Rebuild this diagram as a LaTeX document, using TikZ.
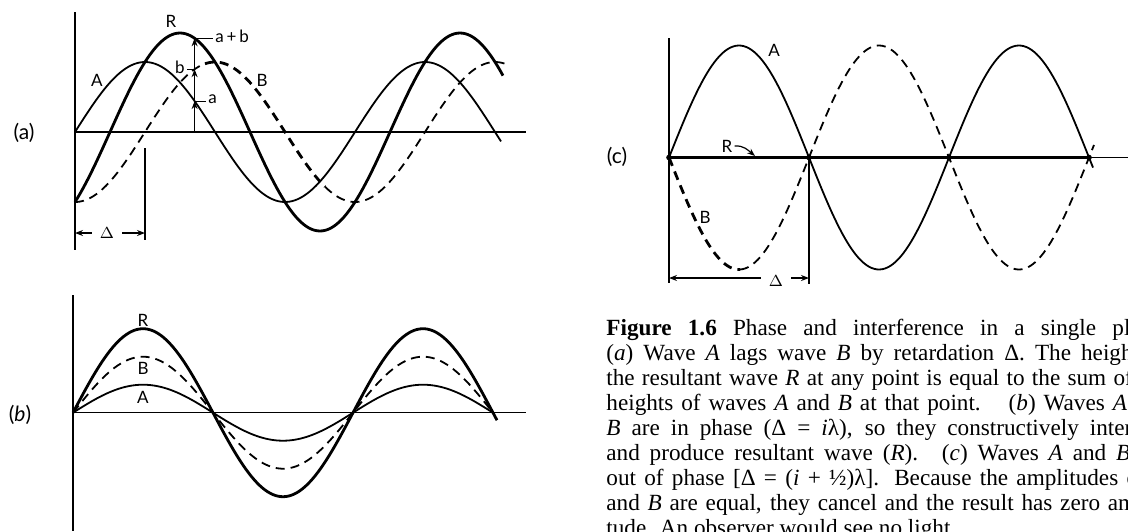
\documentclass[tikz,border=0pt]{standalone}
\usepackage{fontspec}
\setmainfont{Liberation Serif}
\newfontfamily\labfont{Lato}
\usetikzlibrary{arrows.meta}
\begin{document}
\begin{tikzpicture}[x=0.5pt,y=-0.5pt,
  axis/.style={line width=0.7pt},
  waveA/.style={line width=0.9pt, line join=round},
  waveR/.style={line width=1.4pt, line join=round},
  waveB/.style={line width=0.9pt, dash pattern=on 4.5pt off 3pt},
  waveBthick/.style={line width=1.4pt, dash pattern=on 4.5pt off 3pt},
  lab/.style={font=\labfont\fontsize{8.5}{10}\selectfont, inner sep=1pt},
  plab/.style={font=\labfont\fontsize{10.5}{12}\selectfont, inner sep=0pt},
  arr/.style={line width=0.6pt, -{Stealth[length=4pt,width=3pt]}},
  tick/.style={line width=0.6pt},
]
\useasboundingbox (0,0) rectangle (1128,531);
\def\kf{1.285714}

% ---------------- panel (a)
\node[plab] (la) at (24,133) {(a)};
\draw[axis] (75,12) -- (75,250);
\draw[axis] (75,132) -- (526,132);
\draw[waveA] plot[domain=75:501,samples=160] (\x,{132-70*sin(\kf*(\x-75))});
\draw[waveB] plot[domain=75:205,samples=60] (\x,{132+70*cos(\kf*(\x-75))});
\draw[waveBthick] plot[domain=205:325,samples=60] (\x,{132+70*cos(\kf*(\x-75))});
\draw[waveB] plot[domain=325:506,samples=80] (\x,{132+70*cos(\kf*(\x-75))});
\draw[waveR] plot[domain=75:503,samples=160] (\x,{132-70*(sin(\kf*(\x-75))-cos(\kf*(\x-75)))});
\coordinate (p0) at (194.6,132);
\coordinate (pa) at (194.6,101.1);
\coordinate (pb) at (194.6,69.2);
\coordinate (pr) at (194.6,38.3);
\draw[arr] (p0) -- (pa);
\draw[arr] (pa) -- (pb);
\draw[arr] (pb) -- (pr);
\node[lab,anchor=west] (ta) at (206,99) {a};
\draw[tick] (pa) -- (pa -| ta.west);
\node[lab,anchor=east] (tb) at (187,67) {b};
\draw[tick] (tb.east |- pb) -- (pb);
\node[lab,anchor=west] (tab) at (213,36) {a\,+\,b};
\draw[tick] (pr) -- (pr -| tab.west);
\node[lab] (tRa) at (171,21) {R};
\node[lab] (tAa) at (97,80) {A};
\node[lab] (tBa) at (262,80) {B};
\draw[axis] (145,148) -- (145,240);
\node[lab,inner sep=4pt] (dA) at (107,233) {$\Delta$};
\coordinate (dal) at (75,233);
\coordinate (dar) at (145,233);
\draw[arr] (dA.west) -- (dal);
\draw[arr] (dA.east) -- (dar);

% ---------------- panel (b)
\node[plab] (lb) at (20,415) {(\textit{b})};
\draw[axis] (73,295) -- (73,531);
\draw[axis] (73,412.7) -- (526,412.7);
\draw[waveA] plot[domain=73:493,samples=160] (\x,{412.7-28*sin(\kf*(\x-73))});
\draw[waveB] plot[domain=73:493,samples=160] (\x,{412.7-56*sin(\kf*(\x-73))});
\draw[waveR] plot[domain=73:497,samples=160] (\x,{412.7-84*sin(\kf*(\x-73))});
\node[lab] (tRb) at (143,320) {R};
\node[lab] (tBb) at (143,368) {B};
\node[lab] (tAb) at (143,397) {A};

% ---------------- panel (c)
\node[plab] (lc) at (617,157) {(c)};
\draw[axis] (669,38) -- (669,283);
\draw[axis] (669,157.5) -- (1128,157.5);
\draw[waveA] plot[domain=669:1093,samples=160] (\x,{157.5-112*sin(\kf*(\x-669))});
\draw[waveBthick] plot[domain=669:740,samples=40] (\x,{157.5+112*sin(\kf*(\x-669))});
\draw[waveB] plot[domain=740:1094,samples=140] (\x,{157.5+112*sin(\kf*(\x-669))});
\draw[waveR] (669,157.5) -- (1090,157.5);
\foreach \k in {669,809,949,1089} \fill (\k,157.5) circle (1.4pt);
\node[lab] (tAc) at (774,50) {A};
\node[lab] (tBc) at (705,217) {B};
\node[lab] (tRc) at (727,146) {R};
\coordinate (rc) at (755,156);
\draw[arr] (tRc.east) to[out=5,in=140] (rc);
\draw[axis] (809,160) -- (809,284);
\node[lab,inner sep=4pt] (dC) at (776,281) {$\Delta$};
\coordinate (dcl) at (669,278);
\coordinate (dcr) at (809,278);
\draw[arr] (dC.west |- dcl) -- (dcl);
\draw[arr] (dC.east |- dcr) -- (dcr);

% ---------------- caption
\begin{scope}
\clip (0,0) rectangle (1128,531);
\node[anchor=base west, inner sep=0pt, text width=281pt, align=justify,
      font=\fontsize{11.6}{12.5}\selectfont] (cap) at (606,335) {%
\textbf{Figure 1.6} Phase and interference in a single plane.\linebreak
(\textit{a}) Wave \textit{A} lags wave \textit{B} by retardation Δ. The height of\linebreak
the resultant wave \textit{R} at any point is equal to the sum of the\linebreak
heights of waves \textit{A} and \textit{B} at that point.\hspace{0.6em} (\textit{b}) Waves \textit{A} and\linebreak
\textit{B} are in phase (Δ = \textit{i}λ), so they constructively interfere\linebreak
and produce resultant wave (\textit{R}).\hspace{0.6em} (\textit{c}) Waves \textit{A} and \textit{B} are\linebreak
out of phase [Δ = (\textit{i} + ½)λ]. Because the amplitudes of \textit{A}\linebreak
and \textit{B} are equal, they cancel and the result has zero ampli-\linebreak
tude. An observer would see no light.};
\end{scope}
\end{tikzpicture}
\end{document}
